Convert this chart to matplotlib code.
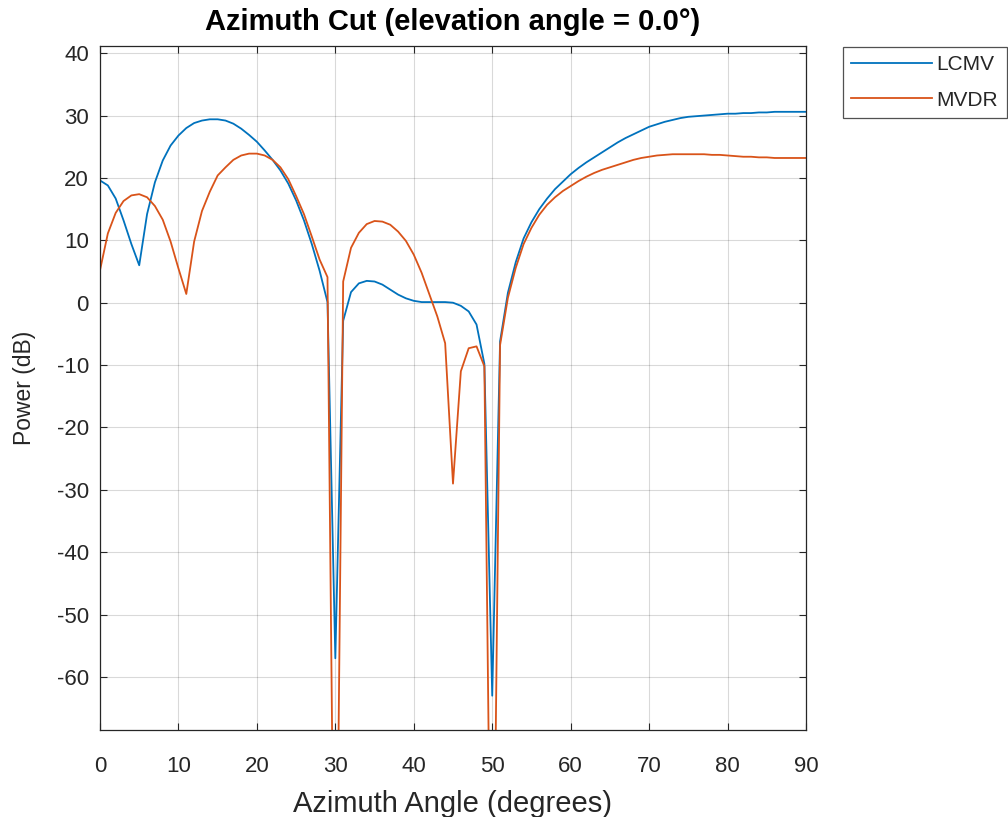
import matplotlib
matplotlib.use("Agg")
import matplotlib.pyplot as plt
import numpy as np

plt.rcParams['font.family'] = ['Liberation Sans', 'DejaVu Sans']
plt.rcParams['axes.unicode_minus'] = False

azimuth = list(range(0, 91))

lcmv = [19.6, 18.8, 16.7, 13.2, 9.4, 6.0, 14.2, 19.3, 22.8, 25.2,
        26.8, 28.0, 28.8, 29.2, 29.4, 29.4, 29.2, 28.7, 27.9, 26.9,
        25.8, 24.4, 22.9, 21.2, 19.1, 16.4, 13.2, 9.4, 5.1, 0.1,
        -57.0, -2.9, 1.7, 3.1, 3.5, 3.4, 2.9, 2.1, 1.3, 0.7,
        0.3, 0.1, 0.1, 0.1, 0.1, 0.0, -0.5, -1.4, -3.5, -9.8,
        -63.0, -6.2, 1.6, 6.5, 10.3, 12.9, 15.0, 16.7, 18.2, 19.4,
        20.6, 21.6, 22.5, 23.3, 24.1, 24.9, 25.7, 26.4, 27.0, 27.6,
        28.2, 28.6, 29.0, 29.3, 29.6, 29.8, 29.9, 30.0, 30.1, 30.2,
        30.3, 30.3, 30.4, 30.4, 30.5, 30.5, 30.6, 30.6, 30.6, 30.6,
        30.6]

mvdr = [5.2, 11.1, 14.4, 16.3, 17.2, 17.4, 16.9, 15.5, 13.3, 9.8,
        5.5, 1.4, 9.8, 14.7, 17.8, 20.4, 21.7, 22.9, 23.6, 23.9,
        23.9, 23.6, 22.9, 21.7, 19.8, 17.1, 14.2, 10.6, 6.9, 4.1,
        -120.0, 3.4, 8.8, 11.2, 12.6, 13.1, 13.0, 12.5, 11.4, 9.9,
        7.7, 4.8, 1.3, -2.2, -6.5, -29.0, -11.0, -7.3, -7.0, -10.2,
        -120.0, -6.8, 0.8, 5.6, 9.4, 12.0, 14.1, 15.7, 16.9, 17.9,
        18.7, 19.5, 20.2, 20.8, 21.3, 21.7, 22.1, 22.5, 22.9, 23.2,
        23.4, 23.6, 23.7, 23.8, 23.8, 23.8, 23.8, 23.8, 23.7, 23.7,
        23.6, 23.5, 23.4, 23.4, 23.3, 23.3, 23.2, 23.2, 23.2, 23.2,
        23.2]

series_names = ["LCMV", "MVDR"]
xticks = list(range(0, 91, 10))
yticks = list(range(-60, 41, 10))

W, H = 1008, 817
fig = plt.figure(figsize=(W / 100, H / 100), dpi=100)
ax = fig.add_axes([100 / W, 1 - 730 / H, (806 - 100) / W, (730 - 45.7) / H])

dark = '#262626'
ax.plot(azimuth, lcmv, color='#0072BD', lw=1.3, label=series_names[0])
ax.plot(azimuth, mvdr, color='#D95319', lw=1.3, label=series_names[1])

ax.set_xlim(0, 90)
ax.set_ylim(-68.5, 41.2)
ax.set_xticks(xticks)
ax.set_yticks(yticks)
ax.grid(True, color='#000000', alpha=0.15, lw=0.8)
ax.tick_params(direction='in', length=5, width=0.8, colors=dark, labelsize=16,
               top=True, right=True, labelcolor=dark)
ax.tick_params(axis='x', pad=19)
ax.tick_params(axis='y', pad=8)
for s in ax.spines.values():
    s.set_color(dark)
    s.set_linewidth(0.9)

ax.set_title("Azimuth Cut (elevation angle = 0.0°)", fontsize=21, fontweight='bold',
             color='black', pad=11)
ax.set_xlabel("Azimuth Angle (degrees)", fontsize=21, color=dark, labelpad=9)
ax.set_ylabel("Power (dB)", fontsize=16.5, color=dark, labelpad=15)

leg = fig.legend(loc='upper left', bbox_to_anchor=(843 / W, 1 - 46.7 / H),
                 bbox_transform=fig.transFigure, fontsize=15, frameon=True,
                 fancybox=False, handlelength=3.85, handletextpad=0.25,
                 labelspacing=0.8, borderpad=0.4, borderaxespad=0)
leg.get_frame().set_edgecolor(dark)
leg.get_frame().set_linewidth(0.9)
for t in leg.get_texts():
    t.set_color(dark)

fig.savefig("out.png", dpi=100)
